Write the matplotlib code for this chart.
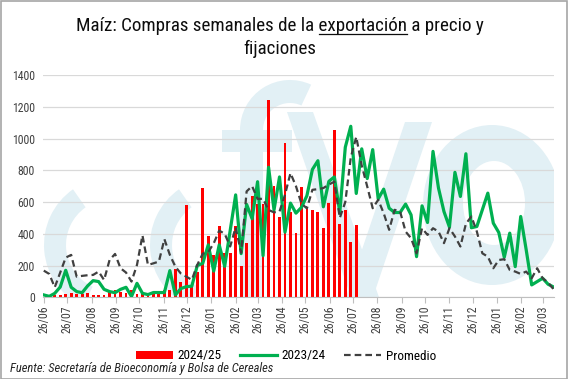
import matplotlib
matplotlib.use('Agg')
import matplotlib.pyplot as plt
import matplotlib.dates as mdates
from matplotlib import font_manager as fm
from matplotlib import transforms
from matplotlib.patches import Patch, Rectangle, Wedge, Ellipse, Polygon
from matplotlib.lines import Line2D
import pandas as pd

# pick a condensed sans if one is installed
names = {f.name for f in fm.fontManager.ttflist}
chosen, stretch = None, 'normal'
for cand in ['Roboto Condensed', 'Liberation Sans Narrow', 'Open Sans Condensed', 'Noto Sans Condensed']:
    if cand in names:
        chosen = cand
        break
if chosen is None:
    chosen = 'Liberation Sans'
plt.rcParams['font.family'] = [chosen, 'DejaVu Sans']
plt.rcParams['font.stretch'] = stretch

start_date = '2024-06-26'

compras_2024_25 = [0, 5, 12, 15, 22, 25, 18, 22, 25, 15,
                   12, 15, 32, 45, 35, 25, 45, 20, 35, 28,
                   30, 36, 46, 48, 177, 99, 582, 67, 162, 688,
                   387, 267, 450, 282, 277, 446, 197, 340, 640, 585,
                   590, 1240, 700, 507, 970, 538, 408, 692, 555, 551,
                   540, 439, 597, 1051, 462, 551, 351, 456, 4, 4]

compras_2023_24 = [15, 6, 25, 65, 170, 63, 36, 29, 72, 105,
                   99, 50, 36, 29, 50, 63, 5, 88, 25, 17,
                   30, 30, 30, 168, 15, 55, 67, 70, 200, 214,
                   330, 165, 330, 195, 420, 645, 275, 585, 495, 728,
                   262, 819, 550, 758, 410, 593, 530, 566, 640, 805,
                   860, 570, 730, 758, 535, 945, 1077, 654, 935, 748,
                   930, 620, 681, 561, 534, 534, 587, 519, 256, 576,
                   471, 919, 688, 540, 442, 787, 635, 904, 438, 446,
                   551, 656, 467, 408, 252, 404, 193, 509, 299, 78,
                   99, 120, 82, 65]

promedio = [168, 147, 63, 156, 250, 267, 130, 135, 139, 141,
            162, 109, 235, 273, 183, 156, 99, 204, 390, 204,
            214, 225, 366, 267, 193, 150, 130, 110, 204, 275,
            285, 340, 420, 400, 320, 440, 280, 667, 700, 620,
            620, 550, 535, 540, 646, 782, 700, 590, 560, 677,
            681, 688, 710, 728, 500, 600, 880, 1010, 830, 698,
            561, 614, 530, 425, 551, 540, 414, 372, 277, 435,
            393, 435, 414, 341, 435, 383, 320, 463, 509, 414,
            277, 256, 183, 235, 240, 172, 162, 147, 162, 120,
            183, 120, 93, 50]

y_ticks = [0, 200, 400, 600, 800, 1000, 1200, 1400]
n_months = 22

dates = pd.date_range(start_date, periods=len(compras_2023_24), freq='7D')
bar_dates = dates[:len(compras_2024_25)]
tick_dates = [pd.Timestamp(start_date) + pd.DateOffset(months=k) for k in range(n_months)]

W, H = 568, 379
fig = plt.figure(figsize=(W / 100, H / 100), dpi=100)
fig.patch.set_facecolor('white')
fig.add_artist(Rectangle((0.5 / W, 0.5 / H), 1 - 1.5 / W, 1 - 1.5 / H, transform=fig.transFigure,
                         fill=False, edgecolor='#a6a6a6', lw=1.2))

left, right, top, bottom = 43, 554, 75, 297.3
ax = fig.add_axes([left / W, 1 - bottom / H, (right - left) / W, (bottom - top) / H])

# faint background logo (pixel coordinates, y measured from the top)
wm = '#e2f0f5'
ident = transforms.IdentityTransform()


def P(x, y):
    return (x, H - y)


logo = [
    Wedge(P(112, 245), 68, 125, 245, width=22),
    Wedge(P(218, 245), 68, 125, 245, width=22),
    Rectangle(P(240, 300), 23, 170),
    Rectangle(P(222, 152), 70, 22),
    Wedge(P(290, 130), 50, 65, 180, width=23),
    Polygon([P(287, 112), P(313, 112), P(380, 300), P(352, 300)]),
    Polygon([P(405, 122), P(432, 122), P(372, 300), P(345, 300)]),
    Ellipse(P(492, 205), 138, 160),
]
for p in logo:
    p.set_transform(ident)
    p.set_facecolor(wm)
    p.set_edgecolor('none')
    p.set_zorder(0.1)
    ax.add_artist(p)
    p.set_clip_path(ax.patch)
hole = Ellipse(P(494, 203), 62, 84, transform=ident, facecolor='white', edgecolor='none', zorder=0.2)
ax.add_artist(hole)

ax.bar(bar_dates, compras_2024_25, width=3.6, color='#ff0000', zorder=2)
ax.plot(dates, compras_2023_24, color='#00b050', lw=2.3, zorder=3, solid_joinstyle='round')
ax.plot(dates, promedio, color='#404040', lw=1.6, ls=(0, (3, 1.8)), zorder=4)

ax.set_ylim(0, 1400)
ax.set_yticks(y_ticks)
ax.set_xlim(dates[0] - pd.Timedelta(days=1), dates[-1] + pd.Timedelta(days=0.5))
ax.set_xticks(tick_dates)
ax.xaxis.set_major_formatter(mdates.DateFormatter('%d/%m'))
for lab in ax.get_xticklabels():
    lab.set_rotation(90)
ax.tick_params(axis='x', length=4, color='#bfbfbf', labelsize=8.5, labelcolor='#404040', pad=2)
ax.tick_params(axis='y', length=0, labelsize=8.5, labelcolor='#404040', pad=6)
ax.grid(axis='y', color='#d9d9d9', lw=0.9)
ax.set_axisbelow(True)
for s in ['top', 'right', 'left']:
    ax.spines[s].set_visible(False)
ax.spines['bottom'].set_color('#bfbfbf')
ax.set_facecolor('none')

fig.canvas.draw()
renderer = fig.canvas.get_renderer()


def text_width(s, size, **kw):
    t = fig.text(0, 0, "|" + s + "|", fontsize=size, **kw)
    w1 = t.get_window_extent(renderer).width
    t.remove()
    t = fig.text(0, 0, "||", fontsize=size, **kw)
    w2 = t.get_window_extent(renderer).width
    t.remove()
    return w1 - w2


# Title with underlined word
pre = "Maíz: Compras semanales de la "
word = "exportación"
post = " a precio y"
full = pre + word + post
tsize = 14
tsize = min(15.5, tsize * 411 / text_width(full, tsize))

cx = 280
base1 = 31
fig.text(cx / W, 1 - base1 / H, full, fontsize=tsize, ha='center', va='baseline', color='#0d0d0d')
wf = text_width(full, tsize)
x0 = cx - wf / 2
u0 = x0 + text_width(pre, tsize)
u1 = x0 + text_width(pre + word, tsize)
fig.add_artist(Line2D([u0 / W, u1 / W], [1 - (base1 + 2.5) / H] * 2, transform=fig.transFigure,
                      color='#0d0d0d', lw=0.9))
fig.text(cx / W, 1 - 54 / H, "fijaciones", fontsize=tsize, ha='center', va='baseline', color='#0d0d0d')

handles = [Patch(facecolor='#ff0000', edgecolor='none'),
           Line2D([], [], color='#00b050', lw=2.3),
           Line2D([], [], color='#404040', lw=1.6, ls=(0, (3, 1.8)))]
fig.legend(handles, ['2024/25', '2023/24', 'Promedio'], loc='center', bbox_to_anchor=(286 / W, 1 - 356 / H),
           ncol=3, frameon=False, fontsize=9.5, handlelength=2.8, handletextpad=0.35, columnspacing=1.4,
           handleheight=0.6)

src = "Fuente: Secretaría de Bioeconomía y Bolsa de Cereales"
ssize = 8.5
ssize = min(9, ssize * 273 / text_width(src, ssize, style='italic'))
fig.text(10 / W, 1 - 372 / H, src, fontsize=ssize, style='italic', color='#262626', ha='left', va='baseline')

fig.savefig('out.png', dpi=100)
